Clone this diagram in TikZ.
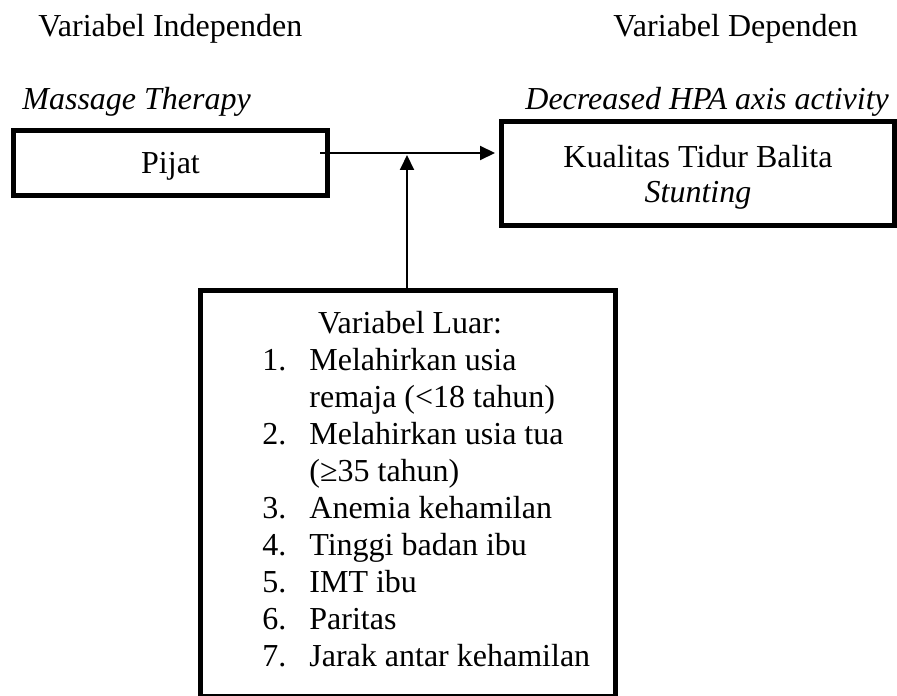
\documentclass[tikz,border=0pt]{standalone}
\usepackage{fontspec}
\setmainfont{Liberation Serif}
\usetikzlibrary{arrows.meta}
\usetikzlibrary{positioning}
\tikzstyle{box}=[draw,line width=2.5pt,inner sep=0pt]
\tikzstyle{hit}=[-{Triangle[length=7.5pt,width=7pt]},line width=1pt]
\tikzstyle{lbl}=[anchor=base west,inner sep=0pt]

\begin{document}
\begin{tikzpicture}[x=0.5pt,y=-0.5pt,font=\fontsize{16pt}{17.5pt}\selectfont]
\useasboundingbox (0,0) rectangle (897,695);
% headings
\node[lbl] (indep) at (38,37) {Variabel Independen};
\node[lbl] (dep) at (613,37) {Variabel Dependen};
\node[lbl] (massage) at (22,110) {\itshape Massage Therapy};
\node[lbl] (hpa) at (525,110) {\itshape Decreased HPA axis activity};
% boxes
\node[box,minimum width=157pt,minimum height=32.5pt,text depth=0pt] (pijat)
  at (170.5,163) {Pijat};
\node[box,minimum width=196.5pt,minimum height=52pt,align=center,text depth=0pt]
  (kualitas) at (698,173.5) {Kualitas Tidur Balita\\\itshape Stunting};
\node[box,minimum width=207.5pt,minimum height=203pt] (luar) at (408,493.5) {};
\node[anchor=base,inner sep=0pt] (judul) at (410,333) {Variabel Luar:};
\foreach \y/\n in {370/1,444/2,518/3,555/4,592/5,629/6,666/7}
  \node[lbl] (no\n) at (262,\y) {\n.};
\foreach \y/\txt in {370/Melahirkan usia,407/remaja (<18 tahun),
  444/Melahirkan usia tua,481/(≥35 tahun),518/Anemia kehamilan,
  555/Tinggi badan ibu,592/IMT ibu,629/Paritas,666/Jarak antar kehamilan}
  \node[lbl] (txt\y) at (309,\y) {\txt};
% connectors
\coordinate (start) at (320,153);
\coordinate (junction) at (407,153);
\draw[hit,shorten >=2pt] (start) -- (kualitas.west |- start);
\draw[hit,shorten >=1pt] (luar.north -| junction) -- (junction);
\end{tikzpicture}
\end{document}
